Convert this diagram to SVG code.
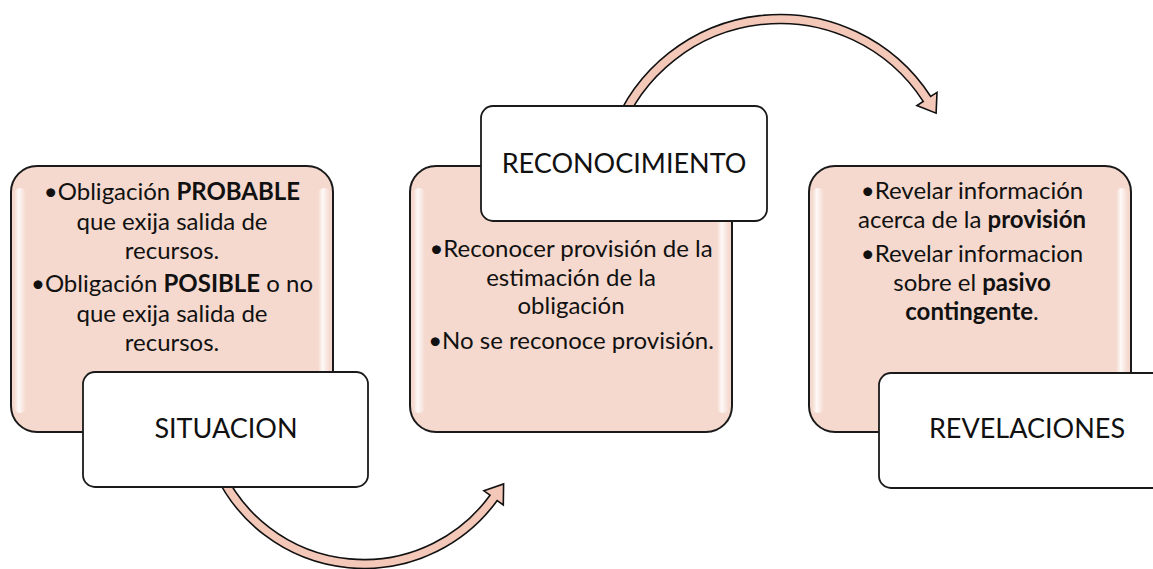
<svg xmlns="http://www.w3.org/2000/svg" width="1153" height="569" viewBox="0 0 1153 569">
<defs>
<linearGradient id="hlL" x1="0" y1="0" x2="1" y2="0">
<stop offset="0" stop-color="#ffffff" stop-opacity="0"/>
<stop offset="0.4" stop-color="#ffffff" stop-opacity="0.85"/>
<stop offset="1" stop-color="#ffffff" stop-opacity="0"/>
</linearGradient>
<style>
.card{fill:#f5d9ce;stroke:#1a1a1a;stroke-width:2}
.hl{fill:url(#hlL)}
.lbl{fill:#ffffff;stroke:#1a1a1a;stroke-width:1.8}
.body{font-family:Lato,"Liberation Sans",sans-serif;font-size:24px;fill:#111;text-anchor:middle}
.title{font-family:Lato,"Liberation Sans",sans-serif;font-size:27px;fill:#111;text-anchor:middle}
.arrow{fill:#f4c8b8;stroke:#111;stroke-width:1.6;stroke-linejoin:miter}
.b{font-weight:bold}
</style>
</defs>
<rect width="1153" height="569" fill="#ffffff"/>
<g id="connectors">
<path class="arrow" d="M214.9,473.5 A164.5,164.5 0 0 0 497.2,500.5 L503.3,504.9 L503.6,484.0 L483.9,490.8 L490.0,495.2 A155.5,155.5 0 0 1 223.0,469.7 Z"/>
<path class="arrow" d="M611.3,132.6 A179.5,179.5 0 0 1 930.7,96.5 L937.0,92.4 L936.1,113.2 L916.9,105.5 L923.2,101.4 A170.5,170.5 0 0 0 619.8,135.7 Z"/>
</g>
<g id="situacion">
<rect class="card" x="11" y="166" width="322" height="266" rx="26"/>
<rect class="hl" x="14" y="188" width="12" height="225" rx="6"/>
<rect class="hl" x="318" y="188" width="12" height="225" rx="6"/>
<text class="body" x="172" y="200">•Obligación <tspan class="b">PROBABLE</tspan></text>
<text class="body" x="172" y="230">que exija salida de</text>
<text class="body" x="172" y="259">recursos.</text>
<text class="body" x="172" y="292">•Obligación <tspan class="b">POSIBLE</tspan> o no</text>
<text class="body" x="172" y="322">que exija salida de</text>
<text class="body" x="172" y="351">recursos.</text>
<rect class="lbl" x="83" y="372" width="285" height="115" rx="12"/>
<text class="title" x="226" y="438">SITUACION</text>
</g>
<g id="reconocimiento">
<rect class="card" x="410" y="166" width="322" height="266" rx="26"/>
<rect class="hl" x="413" y="188" width="12" height="225" rx="6"/>
<rect class="hl" x="717" y="188" width="12" height="225" rx="6"/>
<text class="body" x="571" y="257">•Reconocer provisión de la</text>
<text class="body" x="571" y="286">estimación de la</text>
<text class="body" x="571" y="314">obligación</text>
<text class="body" x="571" y="349">•No se reconoce provisión.</text>
<rect class="lbl" x="481" y="106" width="286" height="115" rx="12"/>
<text class="title" x="624" y="173">RECONOCIMIENTO</text>
</g>
<g id="revelaciones">
<rect class="card" x="809" y="166" width="322" height="266" rx="26"/>
<rect class="hl" x="812" y="188" width="12" height="225" rx="6"/>
<rect class="hl" x="1116" y="188" width="12" height="225" rx="6"/>
<text class="body" x="972" y="199">•Revelar información</text>
<text class="body" x="972" y="228">acerca de la <tspan class="b">provisión</tspan></text>
<text class="body" x="972" y="262">•Revelar informacion</text>
<text class="body" x="972" y="291">sobre el <tspan class="b">pasivo</tspan></text>
<text class="body" x="972" y="320"><tspan class="b">contingente</tspan>.</text>
<rect class="lbl" x="879" y="373" width="300" height="115" rx="12"/>
<text class="title" x="1027" y="438">REVELACIONES</text>
</g>
</svg>
